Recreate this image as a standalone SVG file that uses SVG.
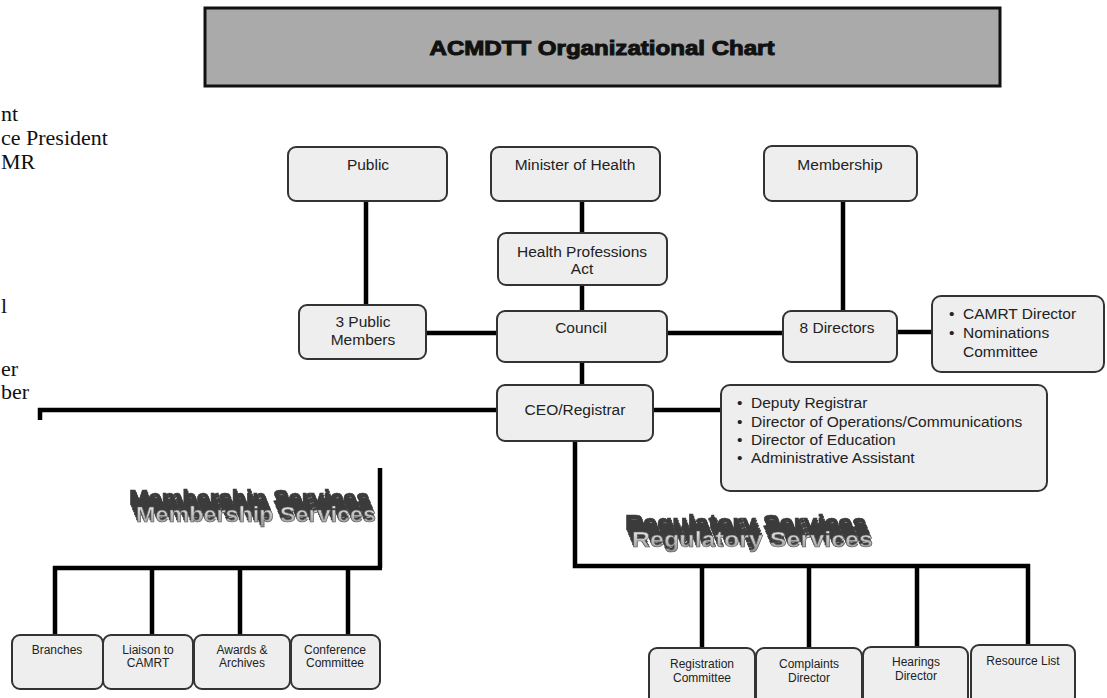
<svg xmlns="http://www.w3.org/2000/svg" width="1107" height="698" viewBox="0 0 1107 698">
<defs>
<linearGradient id="face" x1="0" y1="0" x2="0" y2="1">
<stop offset="0" stop-color="#f6f6f6"/>
<stop offset="1" stop-color="#8f8f8f"/>
</linearGradient>
<filter id="extrude" x="-10%" y="-100%" width="120%" height="220%">
<feOffset in="SourceAlpha" dx="-1" dy="-2.5" result="o1"/>
<feOffset in="SourceAlpha" dx="-2" dy="-5" result="o2"/>
<feOffset in="SourceAlpha" dx="-3" dy="-7.5" result="o3"/>
<feOffset in="SourceAlpha" dx="-4" dy="-10" result="o4"/>
<feOffset in="SourceAlpha" dx="-5" dy="-12.5" result="o5"/>
<feOffset in="SourceAlpha" dx="-6" dy="-15" result="o6"/>
<feOffset in="SourceAlpha" dx="-7" dy="-17.5" result="o7"/>
<feMerge result="ex"><feMergeNode in="o1"/><feMergeNode in="o2"/><feMergeNode in="o3"/><feMergeNode in="o4"/><feMergeNode in="o5"/><feMergeNode in="o6"/><feMergeNode in="o7"/></feMerge>
<feFlood flood-color="#3a3a3a" result="dark"/>
<feComposite in="dark" in2="ex" operator="in" result="exd"/>
<feMerge><feMergeNode in="exd"/><feMergeNode in="SourceGraphic"/></feMerge>
</filter>
</defs>
<style>
.box{fill:#eeeeee;stroke:#333;stroke-width:2}
.t{font-family:"Liberation Sans",Arial,sans-serif;font-size:15.5px;fill:#222;text-anchor:middle}
.tl{font-family:"Liberation Sans",Arial,sans-serif;font-size:15.5px;fill:#222}
.ts{font-family:"Liberation Sans",Arial,sans-serif;font-size:12px;fill:#222;text-anchor:middle}
.serif{font-family:"Liberation Serif","Times New Roman",serif;font-size:22px;fill:#111}
.conn{fill:none;stroke:#000;stroke-width:4.5}
.wa{font-family:"Liberation Sans",Arial,sans-serif;font-weight:bold;font-size:22px;fill:url(#face);stroke:#555;stroke-width:0.6}
</style>
<rect width="1107" height="698" fill="#fff"/>

<g id="clipped-text">
<text class="serif" x="1" y="121">nt</text>
<text class="serif" x="1" y="145">ce President</text>
<text class="serif" x="1" y="169">MR</text>
<text class="serif" x="1" y="313">l</text>
<text class="serif" x="1" y="376">er</text>
<text class="serif" x="1" y="399">ber</text>
</g>

<g id="title">
<rect x="205" y="8" width="795" height="78" fill="#aaaaaa" stroke="#111" stroke-width="3"/>
<text x="602" y="55" font-family="'Liberation Sans',Arial,sans-serif" font-weight="bold" font-size="20" fill="#111" text-anchor="middle" textLength="345" lengthAdjust="spacingAndGlyphs" stroke="#111" stroke-width="1">ACMDTT Organizational Chart</text>
</g>

<g id="connectors">
<path class="conn" d="M366 201V305"/>
<path class="conn" d="M582 201V233"/>
<path class="conn" d="M582 285V311"/>
<path class="conn" d="M843 201V311"/>
<path class="conn" d="M426 333H497"/>
<path class="conn" d="M667 333H783"/>
<path class="conn" d="M897 332H932"/>
<path class="conn" d="M582 362V385"/>
<path class="conn" d="M653 410H721"/>
<path class="conn" d="M497 410H40V420"/>
<path class="conn" d="M380 468V568"/>
<path class="conn" d="M53 568H382"/>
<path class="conn" d="M55 566V636M152 566V636M240 566V636M348 566V636"/>
<path class="conn" d="M575 441V566H1030"/>
<path class="conn" d="M702 566V648M809 566V648M917 566V647M1028 564V645"/>
</g>

<g id="public"><rect class="box" x="288" y="147" width="159" height="54" rx="8"/><text class="t" x="368" y="170">Public</text></g>
<g id="minister"><rect class="box" x="491" y="147" width="169" height="54" rx="8"/><text class="t" x="575" y="170">Minister of Health</text></g>
<g id="membership"><rect class="box" x="764" y="146" width="153" height="55" rx="8"/><text class="t" x="840" y="170">Membership</text></g>
<g id="hpa"><rect class="box" x="498" y="233" width="169" height="52" rx="8"/><text class="t" x="582" y="257">Health Professions</text><text class="t" x="582" y="274">Act</text></g>
<g id="public-members"><rect class="box" x="299" y="305" width="127" height="54" rx="8"/><text class="t" x="363" y="327">3 Public</text><text class="t" x="363" y="345">Members</text></g>
<g id="council"><rect class="box" x="497" y="311" width="170" height="51" rx="8"/><text class="t" x="581" y="333">Council</text></g>
<g id="directors"><rect class="box" x="783" y="311" width="114" height="51" rx="8"/><text class="t" x="837" y="333">8 Directors</text></g>
<g id="camrt"><rect class="box" x="932" y="296" width="172" height="76" rx="9"/>
<text class="tl" x="949" y="319">•</text><text class="tl" x="963" y="319">CAMRT Director</text>
<text class="tl" x="949" y="338">•</text><text class="tl" x="963" y="338">Nominations</text>
<text class="tl" x="963" y="357">Committee</text></g>
<g id="ceo"><rect class="box" x="497" y="385" width="156" height="56" rx="8"/><text class="t" x="575" y="415">CEO/Registrar</text></g>
<g id="staff"><rect class="box" x="721" y="385" width="326" height="106" rx="9"/>
<text class="tl" x="737" y="408">•</text><text class="tl" x="751" y="408">Deputy Registrar</text>
<text class="tl" x="737" y="427">•</text><text class="tl" x="751" y="427">Director of Operations/Communications</text>
<text class="tl" x="737" y="445">•</text><text class="tl" x="751" y="445">Director of Education</text>
<text class="tl" x="737" y="463">•</text><text class="tl" x="751" y="463">Administrative Assistant</text></g>

<g id="membership-services"><text class="wa" x="136" y="522" textLength="240" lengthAdjust="spacingAndGlyphs" filter="url(#extrude)">Membership Services</text></g>
<g id="regulatory-services"><text class="wa" x="632" y="547" textLength="241" lengthAdjust="spacingAndGlyphs" filter="url(#extrude)">Regulatory Services</text></g>

<g id="branches"><rect class="box" x="12" y="635" width="91" height="54" rx="8"/><text class="ts" x="57" y="654">Branches</text></g>
<g id="liaison"><rect class="box" x="103" y="635" width="90" height="54" rx="8"/><text class="ts" x="148" y="654">Liaison to</text><text class="ts" x="148" y="667">CAMRT</text></g>
<g id="awards"><rect class="box" x="194" y="635" width="96" height="54" rx="8"/><text class="ts" x="242" y="654">Awards &amp;</text><text class="ts" x="242" y="667">Archives</text></g>
<g id="conference"><rect class="box" x="291" y="635" width="89" height="54" rx="8"/><text class="ts" x="335" y="654">Conference</text><text class="ts" x="335" y="667">Committee</text></g>

<g id="registration"><rect class="box" x="649" y="648" width="106" height="60" rx="8"/><text class="ts" x="702" y="668">Registration</text><text class="ts" x="702" y="682">Committee</text></g>
<g id="complaints"><rect class="box" x="756" y="648" width="106" height="60" rx="8"/><text class="ts" x="809" y="668">Complaints</text><text class="ts" x="809" y="682">Director</text></g>
<g id="hearings"><rect class="box" x="863" y="647" width="105" height="60" rx="8"/><text class="ts" x="916" y="666">Hearings</text><text class="ts" x="916" y="680">Director</text></g>
<g id="resource"><rect class="box" x="971" y="645" width="104" height="60" rx="8"/><text class="ts" x="1023" y="665">Resource List</text></g>
</svg>
